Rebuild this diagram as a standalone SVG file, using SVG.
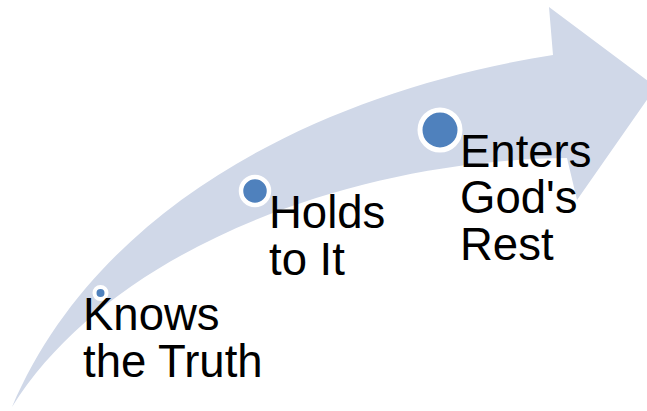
<svg xmlns="http://www.w3.org/2000/svg" width="647" height="411" viewBox="0 0 647 411">
<style>
.lbl{font-family:"Liberation Sans",Arial,sans-serif;font-size:45.5px;fill:#000}
.dot{fill:#4F81BD;stroke:#fff}
</style>
<rect width="647" height="411" fill="#fff"/>
<g id="arrow">
<path d="M12,407 C100,200 330,90 553,55 L549,7 L656,87 L577,200 L567,158 C350,160 110,250 12,407 Z" fill="#D0D8E8"/>
</g>
<g id="node1">
<circle class="dot" cx="100.5" cy="293" r="6" stroke-width="4"/>
<text class="lbl" x="83" y="330">Knows</text>
<text class="lbl" x="83" y="377">the Truth</text>
</g>
<g id="node2">
<circle class="dot" cx="255" cy="191" r="14" stroke-width="4.5"/>
<text class="lbl" x="269" y="228">Holds</text>
<text class="lbl" x="269" y="275">to It</text>
</g>
<g id="node3">
<circle class="dot" cx="440" cy="130" r="20" stroke-width="5"/>
<text class="lbl" x="460" y="167">Enters</text>
<text class="lbl" x="460" y="213">God's</text>
<text class="lbl" x="460" y="260">Rest</text>
</g>
</svg>
